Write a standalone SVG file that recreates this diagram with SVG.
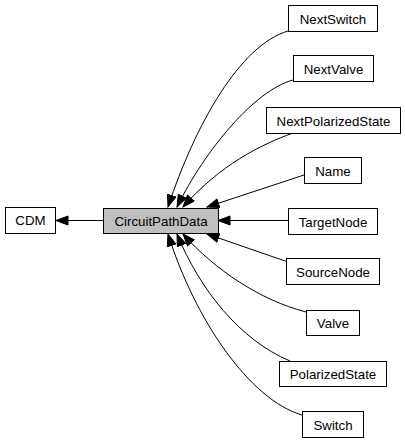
<svg xmlns="http://www.w3.org/2000/svg" width="405" height="443" viewBox="0 0 405 443">
<defs>
<style>
.box{fill:#ffffff;stroke:#000000;stroke-width:1}
.main{fill:#bfbfbf;stroke:#000000;stroke-width:1}
.lbl{font-family:"Liberation Sans",Arial,sans-serif;font-size:13.3px;fill:#000000;text-anchor:middle}
.edge{fill:none;stroke:#000000;stroke-width:1;marker-end:url(#arr)}
</style>
<marker id="arr" markerUnits="userSpaceOnUse" markerWidth="14" markerHeight="12" refX="12.5" refY="5" orient="auto">
<path d="M0.5,0.5 L12.5,5 L0.5,9.5 z" fill="#000000" stroke="#000000" stroke-width="1"/>
</marker>
</defs>
<rect width="405" height="443" fill="#ffffff"/>
<g id="connectors">
<path class="edge" d="M103,220.5 L56,220.5"/>
<path class="edge" d="M288,31 C240,45 195,125 168,207"/>
<path class="edge" d="M293,80 C255,90 205,150 177,207"/>
<path class="edge" d="M293,133 C260,145 220,165 183,207"/>
<path class="edge" d="M304,175 L207,207"/>
<path class="edge" d="M288,220.5 L218,220.5"/>
<path class="edge" d="M288,262 L207,234"/>
<path class="edge" d="M306,312 C260,300 215,270 183,234"/>
<path class="edge" d="M290,361 C240,340 200,290 177,234"/>
<path class="edge" d="M302,415 C250,400 195,320 168,234"/>
</g>
<g id="CDM"><rect class="box" x="5.5" y="207.5" width="50" height="26"/><text class="lbl" x="30.5" y="225">CDM</text></g>
<g id="CircuitPathData"><rect class="main" x="103.5" y="208.5" width="115" height="25"/><text class="lbl" x="161" y="225.5">CircuitPathData</text></g>
<g id="NextSwitch"><rect class="box" x="288.5" y="5.5" width="89" height="26"/><text class="lbl" x="333" y="23.5">NextSwitch</text></g>
<g id="NextValve"><rect class="box" x="293.5" y="55.5" width="80" height="26"/><text class="lbl" x="333.5" y="73.5">NextValve</text></g>
<g id="NextPolarizedState"><rect class="box" x="266.5" y="107.5" width="134" height="26"/><text class="lbl" x="333.5" y="125.5">NextPolarizedState</text></g>
<g id="Name"><rect class="box" x="304.5" y="157.5" width="57" height="26"/><text class="lbl" x="333" y="175.5">Name</text></g>
<g id="TargetNode"><rect class="box" x="288.5" y="208.5" width="89" height="26"/><text class="lbl" x="333" y="226.5">TargetNode</text></g>
<g id="SourceNode"><rect class="box" x="286.5" y="258.5" width="93" height="26"/><text class="lbl" x="333" y="276.5">SourceNode</text></g>
<g id="Valve"><rect class="box" x="306.5" y="310.5" width="53" height="25"/><text class="lbl" x="333" y="328">Valve</text></g>
<g id="PolarizedState"><rect class="box" x="279.5" y="361.5" width="107" height="25"/><text class="lbl" x="333" y="379">PolarizedState</text></g>
<g id="Switch"><rect class="box" x="302.5" y="411.5" width="61" height="26"/><text class="lbl" x="333" y="429.5">Switch</text></g>
</svg>
